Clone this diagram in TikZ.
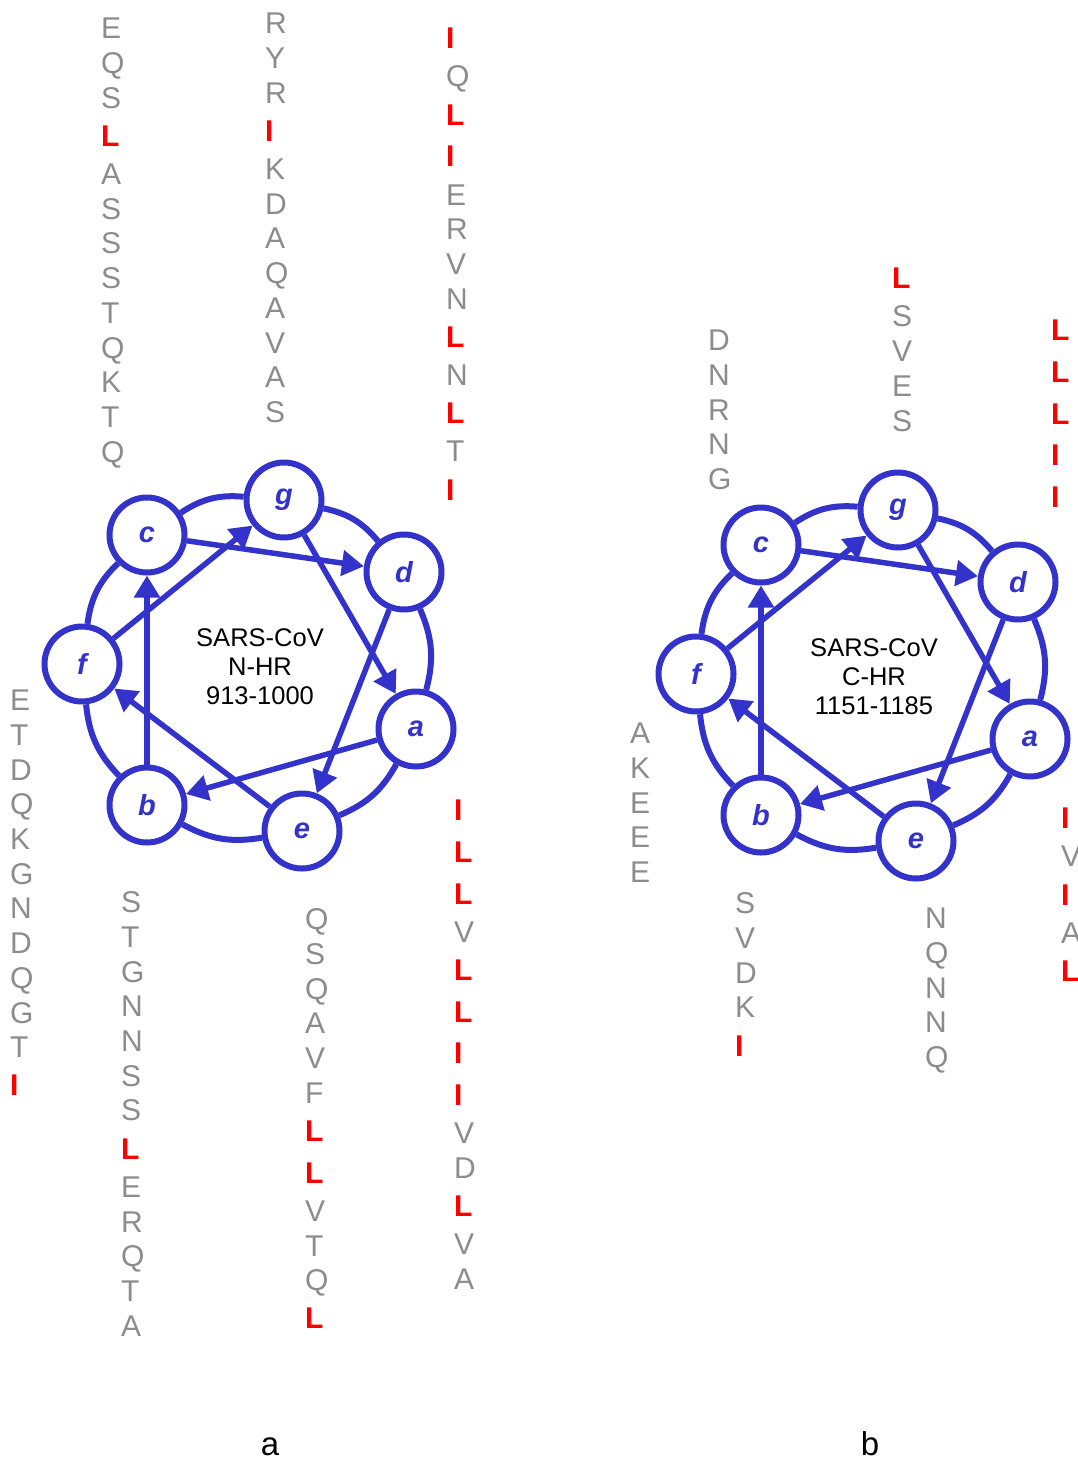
\documentclass[tikz,border=0pt]{standalone}
\usepackage{fontspec}
\setmainfont{Liberation Sans}
\usetikzlibrary{arrows.meta}
\definecolor{hxblue}{RGB}{51,51,204}
\definecolor{hxgray}{RGB}{140,140,140}
\definecolor{hxred}{RGB}{255,0,0}
\tikzset{
 grayres/.style={text=hxgray, font=\fontsize{30}{36}\selectfont, inner sep=0pt, anchor=base west},
 redres/.style={text=hxred, font=\fontsize{30}{36}\selectfont\bfseries, inner sep=0pt, anchor=base west},
 res/.code={\ifnum#1=1 \pgfkeysalso{redres}\else\pgfkeysalso{grayres}\fi},
 heptad/.style={circle, draw=hxblue, line width=6pt, minimum size=75pt, inner sep=0pt, fill=white, text=hxblue, font=\fontsize{29}{30}\selectfont\bfseries\itshape},
 ringarc/.style={draw=hxblue, line width=6pt},
 wheelarrow/.style={draw=hxblue, line width=5.5pt, -{Triangle[length=22pt,width=25pt]}},
 helixlabel/.style={align=center, font=\fontsize{25.5}{29}\selectfont, text=black, inner sep=0pt},
 panellabel/.style={font=\fontsize{33}{36}\selectfont, text=black, inner sep=0pt, anchor=base},
}
% column of residues: #1 name, #2 left x, #3 centre y of first letter, #4 list letter/red
\newcommand\rescol[4]{%
  \xdef\rcy{#3}\xdef\rcprev{-1}%
  \foreach \ll/\rr [count=\ii] in {#4}{%
    \ifnum\rcprev<0 \else
      \pgfmathsetmacro\rcnew{\rcy+34.7+3.5*(\rcprev+\rr)}\xdef\rcy{\rcnew}%
    \fi
    \xdef\rcprev{\rr}%
    \node[res=\rr] (#1-\ii) at ({#2-2},{-\rcy-10.7}) {\ll};
  }%
}
\newcommand\hxwheel[2]{%
  \node[heptad] (#1g) at (284,-500) {g};
  \node[heptad] (#1c) at (147,-535) {c};
  \node[heptad] (#1d) at (404,-572) {d};
  \node[heptad] (#1f) at (82,-664) {f};
  \node[heptad] (#1a) at (416,-729) {a};
  \node[heptad] (#1b) at (147,-805) {b};
  \node[heptad] (#1e) at (302,-831) {e};
  \node[helixlabel] (#1t) at (260,-667) {#2};
  \foreach \p/\q in {g/d,d/a,a/e,e/b,b/f,f/c,c/g} \draw[ringarc] (#1\p) to[bend left=19] (#1\q);
  \foreach \p/\q in {a/b,b/c,c/d,d/e,e/f,f/g,g/a} \draw[wheelarrow] (#1\p) -- (#1\q);
}
\begin{document}
\begin{tikzpicture}[x=1pt,y=1pt]
\useasboundingbox (0,0) rectangle (1078,-1458);
\clip (0,0) rectangle (1078,-1458);
\fill[white] (0,0) rectangle (1078,-1458);
% panel a
\hxwheel{A}{SARS-CoV\\N-HR\\913-1000}
\rescol{a1}{103}{28}{E/0,Q/0,S/0,L/1,A/0,S/0,S/0,S/0,T/0,Q/0,K/0,T/0,Q/0}
\rescol{a2}{267}{23}{R/0,Y/0,R/0,I/1,K/0,D/0,A/0,Q/0,A/0,V/0,A/0,S/0}
\rescol{a3}{448}{38}{I/1,Q/0,L/1,I/1,E/0,R/0,V/0,N/0,L/1,N/0,L/1,T/0,I/1}
\rescol{a4}{12}{700}{E/0,T/0,D/0,Q/0,K/0,G/0,N/0,D/0,Q/0,G/0,T/0,I/1}
\rescol{a5}{123}{902}{S/0,T/0,G/0,N/0,N/0,S/0,S/0,L/1,E/0,R/0,Q/0,T/0,A/0}
\rescol{a6}{307}{919}{Q/0,S/0,Q/0,A/0,V/0,F/0,L/1,L/1,V/0,T/0,Q/0,L/1}
\rescol{a7}{456}{810}{I/1,L/1,L/1,V/0,L/1,L/1,I/1,I/1,V/0,D/0,L/1,V/0,A/0}
% panel b
\begin{scope}[shift={(614,-10)}]
\hxwheel{B}{SARS-CoV\\C-HR\\1151-1185}
\end{scope}
\rescol{b1}{710}{340}{D/0,N/0,R/0,N/0,G/0}
\rescol{b2}{894}{278}{L/1,S/0,V/0,E/0,S/0}
\rescol{b3}{1053}{330}{L/1,L/1,L/1,I/1,I/1}
\rescol{b4}{632}{733}{A/0,K/0,E/0,E/0,E/0}
\rescol{b5}{737}{903}{S/0,V/0,D/0,K/0,I/1}
\rescol{b6}{927}{918}{N/0,Q/0,N/0,N/0,Q/0}
\rescol{b7}{1063}{818}{I/1,V/0,I/1,A/0,L/1}
% panel captions
\node[panellabel] (capa) at (270,-1455) {a};
\node[panellabel] (capb) at (870,-1455) {b};
\end{tikzpicture}
\end{document}
